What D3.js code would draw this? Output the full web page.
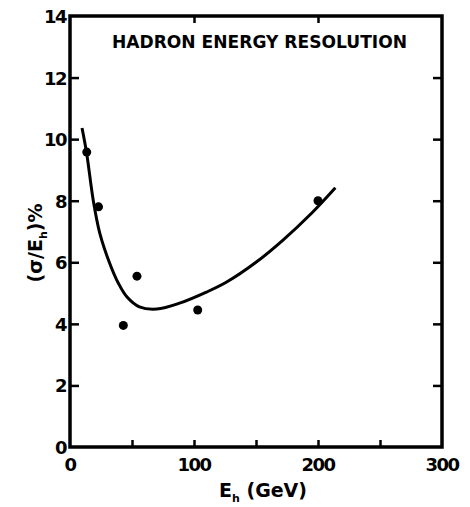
<!DOCTYPE html>
<html>
<head>
<meta charset="UTF-8">
<title>Hadron energy resolution</title>
<script src="https://cdn.jsdelivr.net/npm/d3@7"></script>
<style>
  body { margin: 0; padding: 0; background: #fff; }
  svg text { font-family: "DejaVu Sans", Arial, sans-serif; font-weight: bold; fill: #000; }
</style>
</head>
<body>
<div id="chart"></div>
<script>
// measured points
const pointE = [13.5, 23, 43, 54, 103, 200];
const pointRes = [9.58, 7.8, 3.95, 5.55, 4.45, 8.0];

// hand-drawn fit curve
const curveE = [9.7, 13.4, 18.8, 24, 32, 39, 46, 56, 70, 89, 110, 126, 150, 172, 195, 214];
const curveRes = [10.36, 9.55, 8.0, 6.95, 5.97, 5.32, 4.87, 4.55, 4.48, 4.68, 5.03, 5.35, 6.0, 6.73, 7.6, 8.42];

const xTicks = [0, 100, 200, 300];
const xMinor = [50, 150, 250];
const yTicks = [0, 2, 4, 6, 8, 10, 12, 14];

const w = 470, h = 507;
const mLeft = 70, mRight = 442, mTop = 16, mBottom = 447;

const svg = d3.select("#chart").append("svg")
  .attr("width", w)
  .attr("height", h);

const x = d3.scaleLinear().domain([0, 300]).range([mLeft, mRight]);
const y = d3.scaleLinear().domain([0, 14]).range([mBottom, mTop]);

// ticks inside the frame
const yAxisL = d3.axisLeft(y).tickValues(yTicks.slice(1, -1)).tickSize(-9).tickFormat("");
const yAxisR = d3.axisRight(y).tickValues(yTicks.slice(1, -1)).tickSize(-9).tickFormat("");
const xAxisB = d3.axisBottom(x).tickValues([100, 200].concat(xMinor)).tickSize(-7).tickFormat("");
const xAxisT = d3.axisTop(x).tickValues([100, 200]).tickSize(-7).tickFormat("");

[[yAxisL, `translate(${mLeft},0)`], [yAxisR, `translate(${mRight},0)`],
 [xAxisB, `translate(0,${mBottom})`], [xAxisT, `translate(0,${mTop})`]].forEach(([ax, tr]) => {
  const g = svg.append("g").attr("transform", tr).call(ax);
  g.select(".domain").remove();
  g.selectAll("line").attr("stroke", "#000").attr("stroke-width", 2.5);
});

svg.append("rect")
  .attr("x", mLeft).attr("y", mTop)
  .attr("width", mRight - mLeft).attr("height", mBottom - mTop)
  .attr("fill", "none").attr("stroke", "#000").attr("stroke-width", 3.5);

// tick labels
svg.selectAll(".ylab").data(yTicks).enter().append("text")
  .attr("x", mLeft - 4).attr("y", d => y(d) + 7)
  .attr("text-anchor", "end").attr("font-size", 18)
  .attr("letter-spacing", -1.5)
  .text(d => d);

svg.selectAll(".xlab").data(xTicks).enter().append("text")
  .attr("x", d => x(d)).attr("y", mBottom + 24)
  .attr("text-anchor", "middle").attr("font-size", 18)
  .attr("letter-spacing", -1.5)
  .text(d => d);

// title
svg.append("text")
  .attr("x", 112).attr("y", 48)
  .attr("font-size", 17)
  .attr("textLength", 295).attr("lengthAdjust", "spacingAndGlyphs")
  .text("HADRON ENERGY RESOLUTION");

// axis titles
const xt = svg.append("text")
  .attr("x", 263).attr("y", 497)
  .attr("text-anchor", "middle").attr("font-size", 19);
xt.append("tspan").text("E");
xt.append("tspan").attr("font-size", 11).attr("dy", 5).text("h");
xt.append("tspan").attr("dy", -5).text(" (GeV)");

const yt = svg.append("text")
  .attr("transform", "translate(42,243) rotate(-90)")
  .attr("text-anchor", "middle").attr("font-size", 19);
yt.append("tspan").text("(σ/E");
yt.append("tspan").attr("font-size", 11).attr("dy", 5).text("h");
yt.append("tspan").attr("dy", -5).text(")%");

// fit curve
const line = d3.line()
  .x((d, i) => x(curveE[i]))
  .y(d => y(d))
  .curve(d3.curveCatmullRom);

svg.append("path")
  .datum(curveRes)
  .attr("d", line)
  .attr("fill", "none")
  .attr("stroke", "#000")
  .attr("stroke-width", 3);

// data points
svg.selectAll(".pt").data(pointRes).enter().append("circle")
  .attr("cx", (d, i) => x(pointE[i]))
  .attr("cy", d => y(d))
  .attr("r", 4.5)
  .attr("fill", "#000");
</script>
</body>
</html>
